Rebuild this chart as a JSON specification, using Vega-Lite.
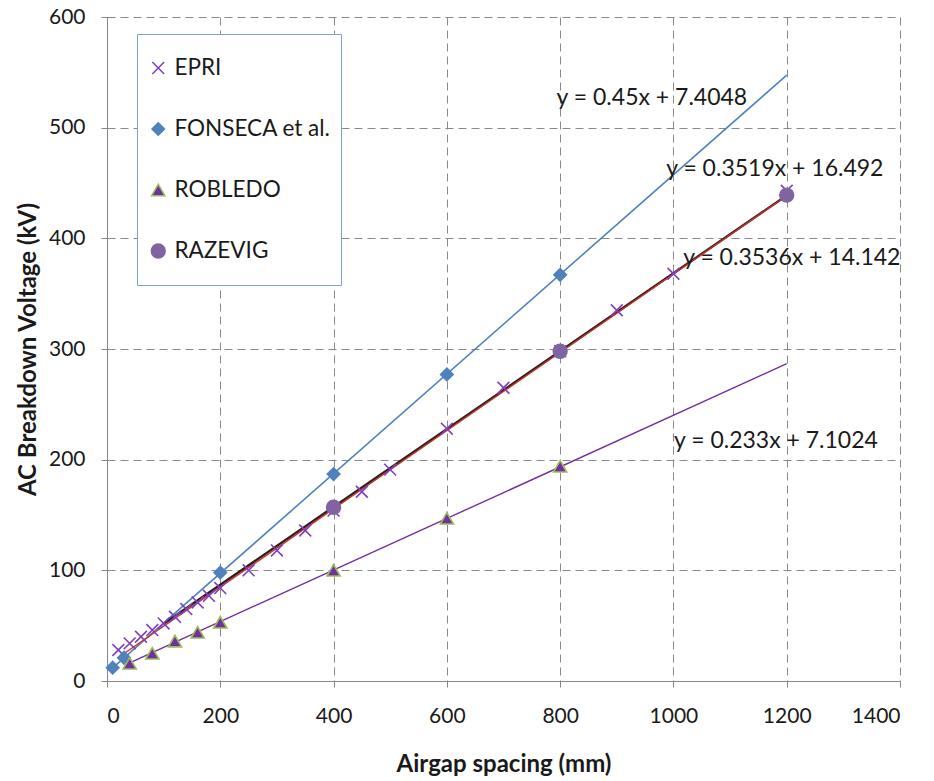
{
  "$schema": "https://vega.github.io/schema/vega-lite/v6.json",
  "width": 793,
  "height": 664,
  "autosize": "none",
  "padding": {"left": 107, "top": 17, "right": 34, "bottom": 100},
  "background": "white",
  "config": {
    "font": "Lato",
    "view": {"stroke": null},
    "axis": {
      "domainColor": "#868686",
      "tickColor": "#868686",
      "tickSize": 6,
      "gridColor": "#8a8a8a",
      "gridDash": [8, 5],
      "gridWidth": 1,
      "labelFontSize": 21,
      "labelColor": "#1a1a1a",
      "titleFontSize": 24,
      "titleFontWeight": "bold",
      "titleColor": "#1a1a1a"
    }
  },
  "datasets": {
    "points": [
      {"series": "EPRI", "x": 20, "y": 28},
      {"series": "EPRI", "x": 40, "y": 34},
      {"series": "EPRI", "x": 60, "y": 40},
      {"series": "EPRI", "x": 80, "y": 46},
      {"series": "EPRI", "x": 100, "y": 52},
      {"series": "EPRI", "x": 120, "y": 58},
      {"series": "EPRI", "x": 140, "y": 65},
      {"series": "EPRI", "x": 160, "y": 71},
      {"series": "EPRI", "x": 180, "y": 77},
      {"series": "EPRI", "x": 200, "y": 84},
      {"series": "EPRI", "x": 250, "y": 100},
      {"series": "EPRI", "x": 300, "y": 118},
      {"series": "EPRI", "x": 350, "y": 136},
      {"series": "EPRI", "x": 400, "y": 154},
      {"series": "EPRI", "x": 450, "y": 171},
      {"series": "EPRI", "x": 500, "y": 191},
      {"series": "EPRI", "x": 600, "y": 228},
      {"series": "EPRI", "x": 700, "y": 265},
      {"series": "EPRI", "x": 800, "y": 298},
      {"series": "EPRI", "x": 900, "y": 335},
      {"series": "EPRI", "x": 1000, "y": 368},
      {"series": "EPRI", "x": 1200, "y": 443},
      {"series": "FONSECA et al.", "x": 10, "y": 12},
      {"series": "FONSECA et al.", "x": 30, "y": 21},
      {"series": "FONSECA et al.", "x": 200, "y": 98},
      {"series": "FONSECA et al.", "x": 400, "y": 187},
      {"series": "FONSECA et al.", "x": 600, "y": 277},
      {"series": "FONSECA et al.", "x": 800, "y": 367},
      {"series": "ROBLEDO", "x": 40, "y": 16},
      {"series": "ROBLEDO", "x": 80, "y": 25},
      {"series": "ROBLEDO", "x": 120, "y": 36},
      {"series": "ROBLEDO", "x": 160, "y": 44},
      {"series": "ROBLEDO", "x": 200, "y": 53},
      {"series": "ROBLEDO", "x": 400, "y": 100},
      {"series": "ROBLEDO", "x": 600, "y": 147},
      {"series": "ROBLEDO", "x": 800, "y": 194},
      {"series": "RAZEVIG", "x": 400, "y": 157},
      {"series": "RAZEVIG", "x": 800, "y": 298},
      {"series": "RAZEVIG", "x": 1200, "y": 439}
    ],
    "trend": [
      {"fit": "FONSECA", "x": 8, "y": 11},
      {"fit": "FONSECA", "x": 1200, "y": 547.4},
      {"fit": "ROBLEDO", "x": 40, "y": 16.4},
      {"fit": "ROBLEDO", "x": 1200, "y": 286.7},
      {"fit": "RAZEVIG", "x": 100, "y": 51.7},
      {"fit": "RAZEVIG", "x": 1200, "y": 438.8},
      {"fit": "EPRI", "x": 20, "y": 21.2},
      {"fit": "EPRI", "x": 1200, "y": 438.5}
    ],
    "labels": [
      {"x": 962, "y": 527, "text": "y = 0.45x + 7.4048"},
      {"x": 1179, "y": 462.5, "text": "y = 0.3519x + 16.492"},
      {"x": 1209, "y": 382, "text": "y = 0.3536x + 14.142"},
      {"x": 1181, "y": 217, "text": "y = 0.233x + 7.1024"}
    ]
  },
  "encoding": {
    "x": {
      "field": "x", "type": "quantitative",
      "scale": {"domain": [0, 1400], "nice": false, "zero": true},
      "axis": {"values": [0, 200, 400, 600, 800, 1000, 1200, 1400], "format": "d", "title": "Airgap spacing (mm)", "labelPadding": 18, "titlePadding": 26, "grid": true}
    },
    "y": {
      "field": "y", "type": "quantitative",
      "scale": {"domain": [0, 600], "nice": false},
      "axis": {"values": [0, 100, 200, 300, 400, 500, 600], "format": "d", "title": "AC Breakdown Voltage (kV)", "labelPadding": 16, "titlePadding": 8, "grid": true}
    }
  },
  "layer": [
    {
      "data": {"name": "trend"},
      "transform": [{"filter": "datum.fit === 'FONSECA'"}],
      "mark": {"type": "line", "color": "#4F81BD", "strokeWidth": 1.6},
      "encoding": {}
    },
    {
      "data": {"name": "trend"},
      "transform": [{"filter": "datum.fit === 'ROBLEDO'"}],
      "mark": {"type": "line", "color": "#7030A0", "strokeWidth": 1.4},
      "encoding": {}
    },
    {
      "data": {"name": "trend"},
      "transform": [{"filter": "datum.fit === 'RAZEVIG'"}],
      "mark": {"type": "line", "color": "#2a2020", "strokeWidth": 2.4},
      "encoding": {}
    },
    {
      "data": {"name": "trend"},
      "transform": [{"filter": "datum.fit === 'EPRI'"}],
      "mark": {"type": "line", "color": "#C8302A", "strokeWidth": 1.4},
      "encoding": {}
    },
    {
      "data": {"name": "points"},
      "mark": {"type": "point", "strokeWidth": 1.6, "opacity": 1},
      "encoding": {
        "shape": {
          "field": "series", "type": "nominal",
          "scale": {
            "domain": ["EPRI", "FONSECA et al.", "ROBLEDO", "RAZEVIG"],
            "range": ["M-1,-1L1,1M-1,1L1,-1", "diamond", "triangle-up", "circle"]
          },
          "legend": {
            "title": null,
            "orient": "none",
            "legendX": 30,
            "legendY": 17,
            "direction": "vertical",
            "padding": 10,
            "clipHeight": 48,
            "rowPadding": 13,
            "strokeColor": "#7BA1D4",
            "fillColor": "white",
            "labelFont": "Lato",
            "labelFontSize": 22.5,
            "labelColor": "#1a1a1a",
            "labelOffset": 5,
            "symbolStrokeWidth": 1.5
          }
        },
        "size": {
          "field": "series", "type": "nominal",
          "scale": {
            "domain": ["EPRI", "FONSECA et al.", "ROBLEDO", "RAZEVIG"],
            "range": [140, 190, 210, 150]
          }
        },
        "fill": {
          "field": "series", "type": "nominal",
          "scale": {
            "domain": ["EPRI", "FONSECA et al.", "ROBLEDO", "RAZEVIG"],
            "range": ["transparent", "#4F81BD", "#7030A0", "#8064A2"]
          }
        },
        "stroke": {
          "field": "series", "type": "nominal",
          "scale": {
            "domain": ["EPRI", "FONSECA et al.", "ROBLEDO", "RAZEVIG"],
            "range": ["#7F3FBF", "#4F81BD", "#9BBB59", "#8064A2"]
          }
        }
      }
    },
    {
      "data": {"name": "labels"},
      "mark": {"type": "text", "fontSize": 23, "color": "#1a1a1a", "align": "center", "baseline": "middle", "font": "Lato"},
      "encoding": {"text": {"field": "text"}}
    }
  ]
}
